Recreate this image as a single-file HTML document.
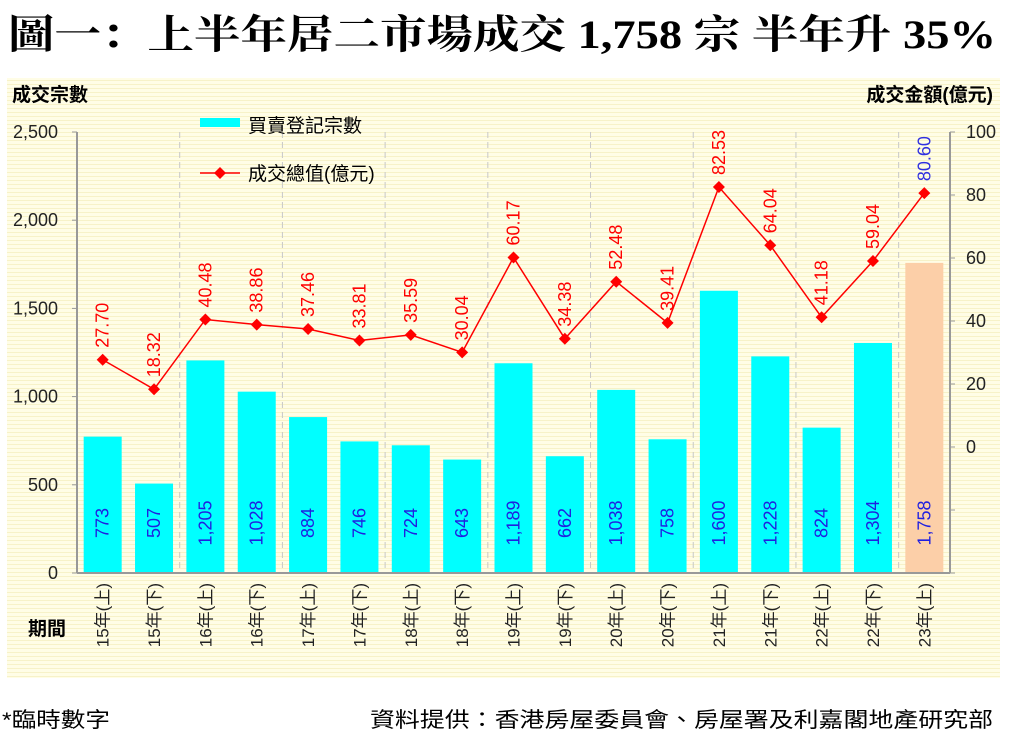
<!DOCTYPE html>
<html><head><meta charset="utf-8">
<style>
body{margin:0;width:1014px;height:735px;background:#fff;overflow:hidden;font-family:"Liberation Sans","Noto Sans CJK TC",sans-serif;}
</style></head>
<body>
<svg width="1014" height="735" xmlns="http://www.w3.org/2000/svg" font-family="Liberation Sans, Noto Sans CJK TC, sans-serif">
<defs>
<pattern id="stripe" width="4" height="4" patternUnits="userSpaceOnUse">
<rect width="4" height="4" fill="#FFFDE6"/><rect width="4" height="1" fill="#F7F2C8"/>
</pattern>
</defs>
<text x="8" y="48" font-size="40" font-weight="bold" textLength="988" lengthAdjust="spacingAndGlyphs" font-family="Liberation Serif, Noto Serif CJK SC, serif">圖一：上半年居二市場成交 1,758 宗  半年升 35%</text>
<rect x="7" y="78" width="993" height="600" fill="url(#stripe)"/>
<text x="12" y="101" font-size="19" font-weight="bold">成交宗數</text>
<text x="993" y="101" font-size="19" font-weight="bold" text-anchor="end">成交金額(億元)</text>
<text x="28" y="635" font-size="19" font-weight="bold">期間</text>
<text x="2" y="727" font-size="21" textLength="108" lengthAdjust="spacingAndGlyphs">*臨時數字</text>
<text x="370" y="727" font-size="21" textLength="623" lengthAdjust="spacingAndGlyphs">資料提供：香港房屋委員會、房屋署及利嘉閣地產研究部</text>
<g id="chart"></g>
<g>
<rect x="200" y="118" width="40" height="9" fill="#00FFFF"/>
<text x="248" y="132" font-size="19">買賣登記宗數</text>
<line x1="200" y1="173" x2="240" y2="173" stroke="#FF0000" stroke-width="1.5"/>
<path d="M220 167 L226 173 L220 179 L214 173Z" fill="#FF0000"/>
<text x="248" y="180" font-size="19">成交總值(億元)</text>
</g>
</svg>
<script>
const categories=["15年(上)","15年(下)","16年(上)","16年(下)","17年(上)","17年(下)","18年(上)","18年(下)","19年(上)","19年(下)","20年(上)","20年(下)","21年(上)","21年(下)","22年(上)","22年(下)","23年(上)"];
const counts=[773,507,1205,1028,884,746,724,643,1189,662,1038,758,1600,1228,824,1304,1758];
const countLabels=["773","507","1,205","1,028","884","746","724","643","1,189","662","1,038","758","1,600","1,228","824","1,304","1,758"];
const values=[27.70,18.32,40.48,38.86,37.46,33.81,35.59,30.04,60.17,34.38,52.48,39.41,82.53,64.04,41.18,59.04,80.60];
const leftTicks=[0,500,1000,1500,2000,2500];
const rightTicks=[-40,-20,0,20,40,60,80,100];
const NS="http://www.w3.org/2000/svg";
const g=document.getElementById('chart');
const L=77,R=950,T=132,B=573;
const step=(R-L)/categories.length;
const xc=i=>L+step*(i+0.5);
const yL=v=>B-(v/2500)*(B-T);
const yR=v=>B-((v+40)/140)*(B-T);
function el(t,a){const e=document.createElementNS(NS,t);for(const k in a)e.setAttribute(k,a[k]);g.appendChild(e);return e;}
for(let i=2;i<categories.length;i+=2){
 const e=el('line',{x1:L+step*i,x2:L+step*i,y1:T,y2:B,stroke:'#C8C8C8','stroke-dasharray':'6,4'});
 
 
}
counts.forEach((v,i)=>{
 const r=el('rect',{x:xc(i)-19,y:yL(v),width:38,height:B-yL(v),fill:i===counts.length-1?'#FCCFA8':'#00FFFF'});
 
 
 const t=el('text',{x:0,y:0,'font-size':18,fill:'#2020E0','text-anchor':'middle',transform:`translate(${xc(i)+6},${B-50}) rotate(-90)`});
 t.textContent=countLabels[i];
 
 
});
let a=el('line',{x1:L,x2:L,y1:T,y2:B,stroke:'#999','stroke-width':2});

a=el('line',{x1:R,x2:R,y1:T,y2:B,stroke:'#999','stroke-width':2});

a=el('line',{x1:L,x2:R,y1:B,y2:B,stroke:'#999','stroke-width':2});

leftTicks.forEach(v=>{
 el('line',{x1:L-5,x2:L,y1:yL(v),y2:yL(v),stroke:'#999'});
 const t=el('text',{x:58,y:yL(v)+6,'font-size':18,'text-anchor':'end',fill:'#222'});
 t.textContent=v.toLocaleString('en-US');
 
 
});
rightTicks.forEach(v=>{
 el('line',{x1:R,x2:R+5,y1:yR(v),y2:yR(v),stroke:'#999'});
 if(v>=0){const t=el('text',{x:966,y:yR(v)+6,'font-size':18,fill:'#222'});
 t.textContent=v;
 
 }
});
categories.forEach((c,i)=>{
 const t=el('text',{x:0,y:0,'font-size':17,'text-anchor':'end',fill:'#222',transform:`translate(${xc(i)+6},${B+10}) rotate(-90)`});
 t.textContent=c;
 
 
});
const pl=el('polyline',{points:values.map((v,i)=>xc(i)+','+yR(v)).join(' '),fill:'none',stroke:'#FF0000','stroke-width':1.5});


values.forEach((v,i)=>{
 const x=xc(i),y=yR(v);
 const p=el('path',{d:`M${x} ${y-6}L${x+6} ${y}L${x} ${y+6}L${x-6} ${y}Z`,fill:'#FF0000'});
 
 
 const t=el('text',{x:0,y:0,'font-size':18,fill:i===values.length-1?'#3030E0':'#FF0000',transform:`translate(${x+6},${y-12}) rotate(-90)`});
 t.textContent=v.toFixed(2);
 
 
});
</script>
</body></html>
